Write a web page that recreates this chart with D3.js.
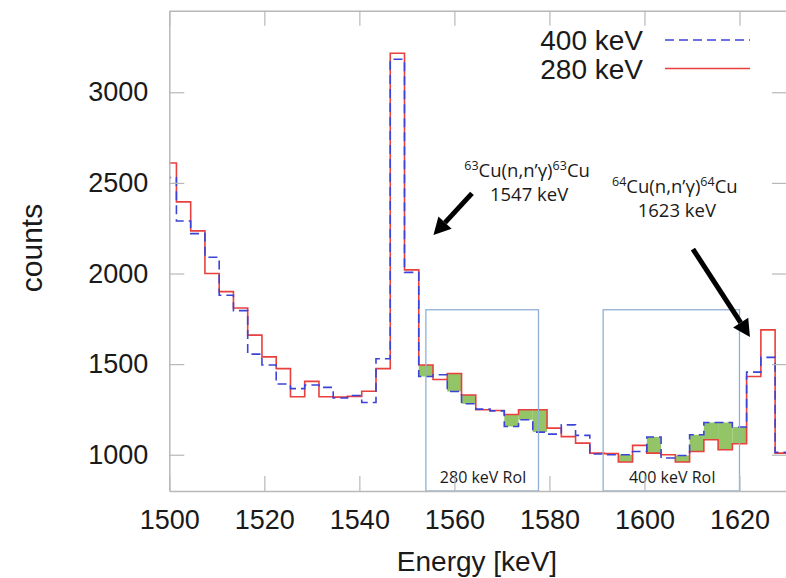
<!DOCTYPE html>
<html>
<head>
<meta charset="utf-8">
<script src="https://cdn.jsdelivr.net/npm/d3@7"></script>
<style>
  body { margin: 0; background: #fff; }
  svg { display: block; }
</style>
</head>
<body>
<svg id="chart" width="786" height="578"></svg>
<script>
// ---- data -------------------------------------------------------------
// 3 keV wide bins, centred on 1500, 1503, ..., 1629 keV
const binCenters = d3.range(1500, 1630, 3);
const binWidth = 3;

// counts per bin, 280 keV beam
const counts280 = [
  2610, 2395, 2235, 2000, 1900, 1810, 1660, 1540, 1475, 1320, 1405,
  1320, 1318, 1322, 1350, 1475, 3215, 2020, 1495, 1415, 1448, 1330,
  1248, 1244, 1222, 1248, 1248, 1147, 1100, 1064, 1009, 1006,  960,
  1052, 1009, 1000,  960, 1018, 1083, 1028, 1061, 1432, 1689, 1009
];

// counts per bin, 400 keV beam
const counts400 = [
  2530, 2290, 2220, 2090, 1880, 1795, 1555, 1495, 1390, 1365, 1385,
  1372, 1313, 1327, 1288, 1530, 3182, 2006, 1432, 1441, 1349, 1281,
  1252, 1242, 1156, 1193, 1125, 1114, 1165, 1107, 1004, 1000, 1000,
  1018, 1098,  982,  996, 1110, 1178, 1178, 1153, 1456, 1537, 1013
];

const xTicks = [1500, 1520, 1540, 1560, 1580, 1600, 1620];
const yTicks = [1000, 1500, 2000, 2500, 3000];

// regions of interest (keV) and which beam energy each one favours
const roiLabels = ["280 keV RoI", "400 keV RoI"];
const roiLow    = [1554, 1591.3];
const roiHigh   = [1577.7, 1620];
const roiTop    = [1800, 1800];
const roiBeam   = ["280", "400"];

// ---- layout -----------------------------------------------------------
const plot = { left: 169.3, right: 787, top: 10.7, bottom: 491 };

const x = d3.scaleLinear().domain([1500, 1630]).range([plot.left, plot.right]);
const y = d3.scaleLinear().domain([800, 3450]).range([plot.bottom, plot.top]);

const colors = {
  red: "#e8403e",
  blue: "#3b44d6",
  green: "#93c566",
  roi: "#8fb0d6",
  axis: "#b8b8b8",
  text: "#1a1a1a"
};

const svg = d3.select("#chart");

svg.append("defs").append("clipPath").attr("id", "plot-clip")
  .append("rect")
  .attr("x", plot.left).attr("y", plot.top)
  .attr("width", plot.right - plot.left)
  .attr("height", plot.bottom - plot.top);

const body = svg.append("g").attr("clip-path", "url(#plot-clip)");

// ---- shaded differences inside each RoI -------------------------------
const fills = [];
roiLabels.forEach((_, r) => {
  binCenters.forEach((c, i) => {
    const lo = c - binWidth / 2, hi = c + binWidth / 2;
    if (hi <= roiLow[r] || lo >= roiHigh[r]) return;
    const main = roiBeam[r] === "280" ? counts280[i] : counts400[i];
    const other = roiBeam[r] === "280" ? counts400[i] : counts280[i];
    if (main > other) fills.push({ lo, hi, top: main, bottom: other });
  });
});

body.selectAll("rect.diff").data(fills).join("rect")
  .attr("class", "diff")
  .attr("x", d => x(d.lo))
  .attr("width", d => x(d.hi) - x(d.lo))
  .attr("y", d => y(d.top))
  .attr("height", d => y(d.bottom) - y(d.top))
  .attr("fill", colors.green);

// ---- RoI boxes ---------------------------------------------------------
roiLabels.forEach((label, r) => {
  svg.append("rect")
    .attr("x", x(roiLow[r]))
    .attr("y", y(roiTop[r]))
    .attr("width", x(roiHigh[r]) - x(roiLow[r]))
    .attr("height", y(800) - y(roiTop[r]))
    .attr("fill", "none")
    .attr("stroke", colors.roi)
    .attr("stroke-width", 1.3);
  svg.append("text")
    .attr("x", x((roiLow[r] + roiHigh[r]) / 2) + 1)
    .attr("y", plot.bottom - 8)
    .attr("text-anchor", "middle")
    .attr("font-family", "'Open Sans', 'Noto Sans', sans-serif")
    .attr("font-size", 16)
    .attr("fill", colors.text)
    .text(label);
});

// ---- histogram step lines ---------------------------------------------
function stepPoints(vals) {
  const pts = binCenters.map((c, i) => [c - binWidth / 2, vals[i]]);
  pts.push([binCenters[binCenters.length - 1] + binWidth / 2, vals[vals.length - 1]]);
  return pts;
}
const step = d3.line()
  .x(d => x(d[0]))
  .y(d => y(d[1]))
  .curve(d3.curveStepAfter);

body.append("path")
  .attr("d", step(stepPoints(counts280)))
  .attr("fill", "none")
  .attr("stroke", colors.red)
  .attr("stroke-width", 1.6);

body.append("path")
  .attr("d", step(stepPoints(counts400)))
  .attr("fill", "none")
  .attr("stroke", colors.blue)
  .attr("stroke-width", 1.6)
  .attr("stroke-dasharray", "9,5");

// ---- axes (inward ticks on all four sides) ----------------------------
const tickFont = "'Liberation Sans', Arial, Helvetica, sans-serif";
const plain = d3.format("d");

function styleAxis(g) {
  g.selectAll(".domain").attr("stroke", colors.axis).attr("stroke-width", 1.5);
  g.selectAll(".tick line").attr("stroke", colors.axis).attr("stroke-width", 1.2);
  g.selectAll(".tick text")
    .attr("font-family", tickFont)
    .attr("font-size", 27)
    .attr("fill", colors.text);
}

svg.append("g")
  .attr("transform", `translate(0,${plot.bottom})`)
  .call(d3.axisBottom(x).tickValues(xTicks).tickFormat(plain)
    .tickSizeInner(-15).tickSizeOuter(0).tickPadding(19))
  .call(styleAxis);

svg.append("g")
  .attr("transform", `translate(0,${plot.top})`)
  .call(d3.axisTop(x).tickValues(xTicks).tickSizeInner(-15).tickSizeOuter(0).tickFormat(""))
  .call(styleAxis);

svg.append("g")
  .attr("transform", `translate(${plot.left},0)`)
  .call(d3.axisLeft(y).tickValues(yTicks).tickFormat(plain)
    .tickSizeInner(-15).tickSizeOuter(0).tickPadding(21))
  .call(styleAxis);

svg.append("g")
  .attr("transform", `translate(${plot.right},0)`)
  .call(d3.axisRight(y).tickValues(yTicks).tickSizeInner(-15).tickSizeOuter(0).tickFormat(""))
  .call(styleAxis);

// axis titles
svg.append("text")
  .attr("x", 477).attr("y", 571)
  .attr("text-anchor", "middle")
  .attr("font-family", tickFont)
  .attr("font-size", 28)
  .attr("fill", colors.text)
  .text("Energy [keV]");

svg.append("text")
  .attr("transform", "translate(42,248) rotate(-90)")
  .attr("text-anchor", "middle")
  .attr("font-family", tickFont)
  .attr("font-size", 30)
  .attr("fill", colors.text)
  .text("counts");

// ---- legend -----------------------------------------------------------
const legend = [
  { label: "400 keV", color: colors.blue, dash: "9,5", ty: 50, ly: 40 },
  { label: "280 keV", color: colors.red, dash: null, ty: 79, ly: 68.5 }
];
legend.forEach(d => {
  svg.append("text")
    .attr("x", 643).attr("y", d.ty)
    .attr("text-anchor", "end")
    .attr("font-family", tickFont)
    .attr("font-size", 28)
    .attr("fill", colors.text)
    .text(d.label);
  svg.append("line")
    .attr("x1", 665).attr("x2", 750)
    .attr("y1", d.ly).attr("y2", d.ly)
    .attr("stroke", d.color)
    .attr("stroke-width", 1.6)
    .attr("stroke-dasharray", d.dash);
});

// ---- peak annotations -------------------------------------------------
const noteFont = "'Open Sans', 'Noto Sans', sans-serif";
const notes = [
  { iso: "63", energy: "1547 keV", tx: 1575.3, ty: 2530,
    from: [1563.7, 2442], to: [1555.6, 2212] },
  { iso: "64", energy: "1623 keV", tx: 1606.4, ty: 2445,
    from: [1610.2, 2135], to: [1622.2, 1650] }
];

notes.forEach(n => {
  const cx = x(n.tx), cy = y(n.ty);
  const t = svg.append("text")
    .attr("x", cx).attr("y", cy)
    .attr("text-anchor", "middle")
    .attr("font-family", noteFont)
    .attr("font-size", 18.5)
    .attr("fill", colors.text);
  t.append("tspan").attr("font-size", 12.5).attr("dy", -7).text(n.iso);
  t.append("tspan").attr("dy", 7).text("Cu(n,n\u2019\u03B3)");
  t.append("tspan").attr("font-size", 12.5).attr("dy", -7).text(n.iso);
  t.append("tspan").attr("dy", 7).text("Cu");

  svg.append("text")
    .attr("x", cx + 2).attr("y", cy + 24)
    .attr("text-anchor", "middle")
    .attr("font-family", noteFont)
    .attr("font-size", 18.5)
    .attr("fill", colors.text)
    .text(n.energy);

  // thick arrow with a triangular head
  const x0 = x(n.from[0]), y0 = y(n.from[1]);
  const x1 = x(n.to[0]), y1 = y(n.to[1]);
  const ang = Math.atan2(y1 - y0, x1 - x0);
  const headLen = 17, headHalf = 9;
  const bx = x1 - headLen * Math.cos(ang), by = y1 - headLen * Math.sin(ang);
  svg.append("line")
    .attr("x1", x0).attr("y1", y0)
    .attr("x2", bx).attr("y2", by)
    .attr("stroke", "#000")
    .attr("stroke-width", 5);
  const px = -Math.sin(ang), py = Math.cos(ang);
  svg.append("path")
    .attr("d", `M${x1},${y1}L${bx + px * headHalf},${by + py * headHalf}L${bx - px * headHalf},${by - py * headHalf}Z`)
    .attr("fill", "#000");
});
</script>
</body>
</html>
